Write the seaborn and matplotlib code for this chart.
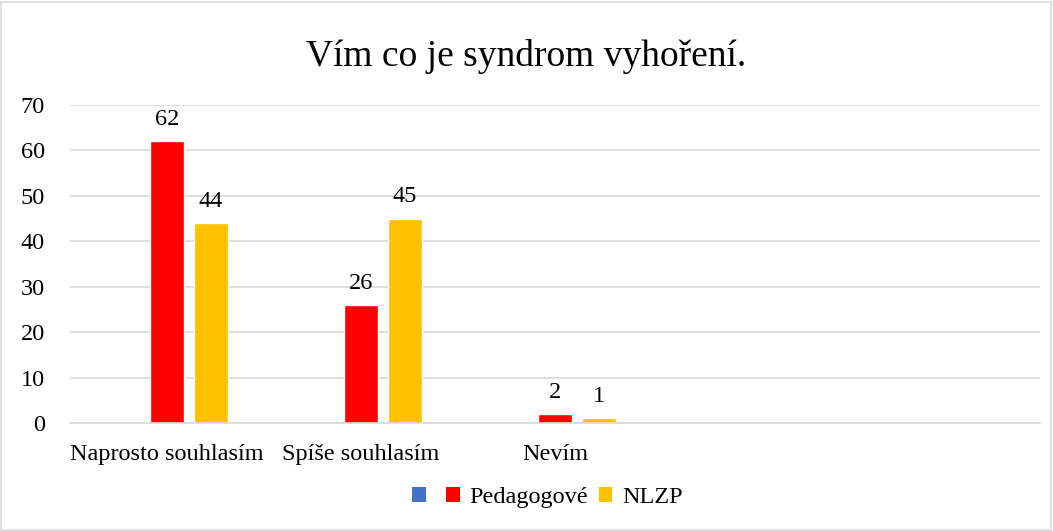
import numpy as np
import pandas as pd
import matplotlib.pyplot as plt
import seaborn as sns
from matplotlib.patches import Patch, Rectangle

# chart data
categories = ["Naprosto souhlasím", "Spíše souhlasím", "Nevím"]
series_names = ["", "Pedagogové", "NLZP"]
blank_vals = [np.nan, np.nan, np.nan]
pedagogove = [62, 26, 2]
nlzp = [44, 45, 1]
colors = ["#4472C4", "#FF0000", "#FFC000"]
y_ticks = [0, 10, 20, 30, 40, 50, 60, 70]
title = "Vím co je syndrom vyhoření."

sns.set_theme(style="white")
plt.rcParams["font.family"] = ["Liberation Serif", "DejaVu Serif"]
plt.rcParams["text.color"] = "black"
plt.rcParams["xtick.color"] = "black"
plt.rcParams["ytick.color"] = "black"

df = pd.DataFrame({
    "kategorie": categories * 3,
    "serie": [s for s in series_names for _ in categories],
    "hodnota": blank_vals + pedagogove + nlzp,
})

fig = plt.figure(figsize=(10.53, 5.31), dpi=100)
ax = fig.add_axes([0.0665, 0.2034, 0.9215, 0.599])

sns.barplot(data=df, x="kategorie", y="hodnota", hue="serie",
            order=categories, hue_order=series_names,
            palette=colors, width=0.68, gap=0.23, ax=ax, legend=False,
            errorbar=None, saturation=1)

for cont in ax.containers:
    labels = ["" if np.isnan(v) else f"{v:.0f}" for v in cont.datavalues]
    ax.bar_label(cont, labels=labels, padding=8, fontsize=17.5)

ax.set_xlim(-0.5, 4.5)
ax.set_ylim(0, 70)
ax.set_yticks(y_ticks)
ax.yaxis.grid(True, color="#D9D9D9", linewidth=1.2)
ax.set_axisbelow(True)
for side in ["top", "right", "left"]:
    ax.spines[side].set_visible(False)
ax.spines["bottom"].set_color("#D9D9D9")
ax.spines["bottom"].set_linewidth(1.2)
ax.tick_params(axis="y", length=0, pad=18, labelsize=17.5)
ax.tick_params(axis="x", length=0, pad=15, labelsize=17.5)
ax.set_xlabel("")
ax.set_ylabel("")

fig.suptitle(title, fontsize=27, y=0.927)

handles = [Patch(facecolor=c, edgecolor="none") for c in colors]
fig.legend(handles, series_names, loc="center", bbox_to_anchor=(0.52, 0.063),
           ncol=3, frameon=False, fontsize=17.5, handlelength=0.55, handleheight=0.55,
           handletextpad=0.4, columnspacing=0.45)

fig.add_artist(Rectangle((0.001, 0.002), 0.997, 0.995, transform=fig.transFigure,
                         fill=False, edgecolor="#D9D9D9", linewidth=1.2))

fig.savefig("out.png", dpi=100)
